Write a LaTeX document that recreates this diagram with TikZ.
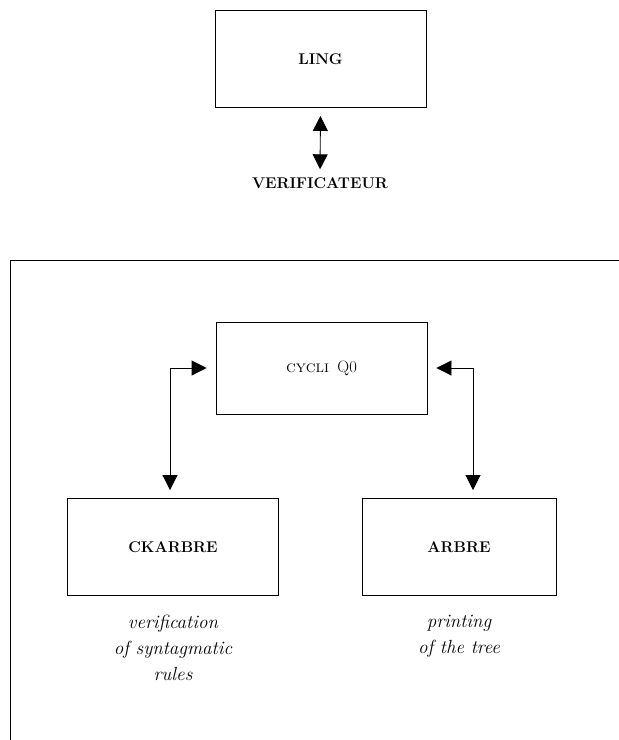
\documentclass[tikz,border=0pt]{standalone}
\usetikzlibrary{arrows.meta}
\begin{document}
\begin{tikzpicture}[x=1pt,y=-1pt,
  box/.style={draw,line width=0.9pt,minimum width=211pt,minimum height=97pt,inner sep=0pt,font=\fontsize{15.5}{18}\selectfont\bfseries},
  lbl/.style={font=\fontsize{15.5}{18}\selectfont\bfseries,inner sep=0pt},
  captext/.style={align=center,font=\fontsize{19}{26}\selectfont\itshape,inner sep=0pt},
  conn/.style={line width=0.9pt,{Triangle[width=15pt,length=15pt]}-{Triangle[width=15pt,length=15pt]},shorten <=8pt,shorten >=8pt}]
\useasboundingbox (0,0) rectangle (619,740);
\node[box] (ling) at (320.5,59) {LING};
\node[lbl] (verif) at (320,183) {VERIFICATEUR};
\draw[conn] (ling.south) -- (verif.north);
\draw[line width=0.9pt] (619,260) -- (10,260) -- (10,740);
\node[box,font=\fontsize{16.5}{19}\selectfont,minimum height=92pt] (cycli) at (321.5,368) {\textsc{cycli}\enspace Q0};
\node[box] (ck) at (173,547) {CKARBRE};
\node[box,minimum width=194pt] (arbre) at (459,547) {ARBRE};
\draw[conn,shorten <=9pt] (cycli.west) -| ([xshift=-3pt]ck.north);
\draw[conn,shorten <=9pt] (cycli.east) -| ([xshift=14pt]arbre.north);
\node[captext,anchor=north] (c1) at (173,615) {verification\\of syntagmatic\\rules};
\node[captext,anchor=north] (c2) at (459,615) {printing\\of the tree};
\end{tikzpicture}
\end{document}
